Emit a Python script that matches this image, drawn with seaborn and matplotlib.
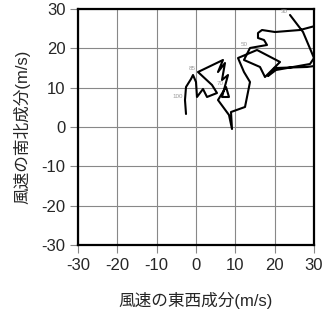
import matplotlib
matplotlib.use("Agg")
import matplotlib.pyplot as plt
import seaborn as sns
import pandas as pd

# Hodograph wind components (m/s)
u_wind = [-2.54, -2.80, -2.54, -1.27, -0.76, 0.00, 0.25, 1.78, 2.80, 5.34,
          4.07, 0.51, 6.86, 5.59, 7.37, 6.61, 8.14, 6.61, 8.39, 7.63,
          5.59, 8.39, 9.15, 8.90, 12.46, 13.73, 12.20, 10.68, 15.51, 21.36,
          17.54, 16.27, 12.20, 13.73, 18.05, 17.29, 15.76, 15.76, 16.78, 20.09,
          26.44, 34.07, 34.07, 28.22, 20.09, 18.31, 20.34, 28.99, 30.00, 27.21,
          23.90]
v_wind = [3.31, 6.86, 10.17, 12.20, 13.22, 11.44, 7.63, 9.66, 7.63, 8.64,
          10.68, 13.98, 17.04, 13.98, 16.27, 11.95, 13.22, 7.63, 7.63, 10.17,
          6.86, 3.05, -0.51, 3.81, 5.09, 11.44, 13.98, 17.54, 19.58, 16.53,
          12.71, 15.26, 17.04, 20.09, 20.85, 22.12, 22.63, 23.90, 24.66, 24.15,
          24.66, 26.70, 16.02, 15.26, 15.00, 12.97, 14.49, 16.02, 17.54, 24.15,
          28.48]

# Level labels (index into the path, label text)
level_idx = [1, 11, 19, 33, 50]
level_txt = ["100", "85", "70", "50", "30"]

ticks = [-30, -20, -10, 0, 10, 20, 30]
tick_labels = ["-30", "-20", "-10", "0", "10", "20", "30"]
xlabel = "風速の東西成分(m/s)"
ylabel = "風速の南北成分(m/s)"

sns.set_style("ticks")
plt.rcParams["font.family"] = ["Liberation Sans", "Noto Sans CJK JP", "DejaVu Sans"]

df = pd.DataFrame({"u": u_wind, "v": v_wind, "order": range(len(u_wind))})

fig = plt.figure(figsize=(3.23, 3.13), dpi=100)
ax = fig.add_axes([78 / 323, 1 - 245 / 313, 236 / 323, 236 / 313])

sns.lineplot(data=df, x="u", y="v", sort=False, estimator=None, color="black",
             linewidth=1.5, ax=ax, zorder=3)

for i, t in zip(level_idx, level_txt):
    ax.text(u_wind[i] - 0.6, v_wind[i] + 0.3, t, fontsize=4.5, color="#9a9a9a",
            ha="right", va="bottom", zorder=4)

ax.set_xlim(-30, 30)
ax.set_ylim(-30, 30)
ax.set_xticks(ticks)
ax.set_xticklabels(tick_labels)
ax.set_yticks(ticks)
ax.set_yticklabels(tick_labels)
ax.grid(True, color="#888888", linewidth=0.8)
ax.set_axisbelow(True)
for s in ax.spines.values():
    s.set_visible(True)
    s.set_linewidth(1.6)
    s.set_color("black")
ax.tick_params(axis="both", direction="out", length=6, width=0.8, color="#888888",
               labelsize=12, pad=3)
ax.set_xlabel(xlabel, fontsize=12, labelpad=14)
ax.set_ylabel(ylabel, fontsize=12, labelpad=8)

fig.savefig("out.png", dpi=100)
